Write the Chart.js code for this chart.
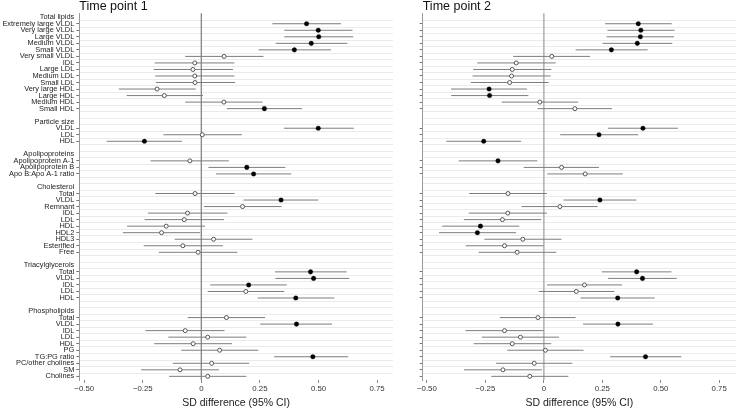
<!DOCTYPE html>
<html><head><meta charset="utf-8">
<script src="https://cdn.jsdelivr.net/npm/chart.js@4.4.0/dist/chart.umd.min.js"></script>
<style>
html,body{margin:0;padding:0;background:#fff;width:741px;height:411px;overflow:hidden}
canvas{position:absolute;top:0}
#c1{left:0}#c2{left:398px}
</style>
</head><body>
<canvas id="c1" width="398" height="411"></canvas>
<canvas id="c2" width="343" height="411"></canvas>
<script>
// ---------- categories ----------
const groups = ["Total lipids","Particle size","Apolipoproteins","Cholesterol","Triacylglycerols","Phospholipids"];
const totalLipidItems = ["Extremely large VLDL","Very large VLDL","Large VLDL","Medium VLDL","Small VLDL","Very small VLDL","IDL","Large LDL","Medium LDL","Small LDL","Very large HDL","Large HDL","Medium HDL","Small HDL"];
const particleSizeItems = ["VLDL","LDL","HDL"];
const apoItems = ["Apolipoprotein A-1","Apolipoprotein B","Apo B:Apo A-1 ratio"];
const cholesterolItems = ["Total","VLDL","Remnant","IDL","LDL","HDL","HDL2","HDL3","Esterified","Free"];
const tgItems = ["Total","VLDL","IDL","LDL","HDL"];
const phosphoItems = ["Total","VLDL","IDL","LDL","HDL","PG","TG:PG ratio","PC/other cholines","SM","Cholines"];
const groupItems = [totalLipidItems, particleSizeItems, apoItems, cholesterolItems, tgItems, phosphoItems];

// ---------- Time point 1 ----------
const tp1Est  = [0.449,0.499,0.501,0.469,0.397,0.097,-0.028,-0.036,-0.028,-0.027,-0.189,-0.158,0.096,0.269,
                 0.499,0.004,-0.243,
                 -0.049,0.194,0.223,
                 -0.027,0.340,0.176,-0.059,-0.073,-0.150,-0.170,0.052,-0.079,-0.014,
                 0.466,0.479,0.202,0.190,0.403,
                 0.107,0.406,-0.069,0.027,-0.035,0.078,0.476,0.044,-0.091,0.027];
const tp1Low  = [0.303,0.354,0.354,0.317,0.244,-0.069,-0.200,-0.204,-0.197,-0.194,-0.352,-0.319,-0.069,0.109,
                 0.352,-0.162,-0.404,
                 -0.217,0.030,0.062,
                 -0.196,0.180,0.011,-0.228,-0.242,-0.317,-0.335,-0.114,-0.246,-0.182,
                 0.314,0.316,0.038,0.027,0.240,
                 -0.058,0.251,-0.239,-0.141,-0.201,-0.086,0.311,-0.122,-0.257,-0.138];
const tp1High = [0.596,0.645,0.648,0.623,0.553,0.265,0.141,0.135,0.141,0.144,-0.024,0.007,0.261,0.430,
                 0.651,0.173,-0.083,
                 0.117,0.359,0.384,
                 0.142,0.499,0.342,0.111,0.097,0.016,-0.005,0.218,0.092,0.154,
                 0.620,0.631,0.365,0.354,0.568,
                 0.272,0.558,0.099,0.192,0.131,0.243,0.627,0.204,0.075,0.192];
const tp1Sig  = [1,1,1,1,1,0,0,0,0,0,0,0,0,1,
                 1,0,1,
                 0,1,1,
                 0,1,0,0,0,0,0,0,0,0,
                 1,1,1,0,1,
                 0,1,0,0,0,0,1,0,0,0];

// ---------- Time point 2 ----------
const tp2Est  = [0.404,0.415,0.413,0.400,0.289,0.034,-0.118,-0.135,-0.138,-0.146,-0.234,-0.232,-0.017,0.133,
                 0.424,0.236,-0.257,
                 -0.196,0.076,0.177,
                 -0.153,0.240,0.069,-0.154,-0.177,-0.271,-0.284,-0.090,-0.168,-0.114,
                 0.397,0.422,0.174,0.139,0.316,
                 -0.025,0.317,-0.168,-0.100,-0.135,0.007,0.435,-0.041,-0.175,-0.060];
const tp2Low  = [0.262,0.272,0.268,0.251,0.136,-0.131,-0.285,-0.302,-0.305,-0.312,-0.397,-0.396,-0.180,-0.027,
                 0.275,0.070,-0.417,
                 -0.364,-0.086,0.015,
                 -0.319,0.084,-0.095,-0.321,-0.342,-0.435,-0.448,-0.254,-0.334,-0.279,
                 0.248,0.275,0.014,-0.022,0.157,
                 -0.188,0.168,-0.335,-0.265,-0.300,-0.156,0.284,-0.204,-0.341,-0.225];
const tp2High = [0.547,0.559,0.557,0.550,0.444,0.198,0.051,0.032,0.029,0.021,-0.072,-0.066,0.147,0.292,
                 0.574,0.404,-0.097,
                 -0.028,0.236,0.338,
                 0.013,0.396,0.230,0.013,-0.010,-0.105,-0.119,0.076,-0.001,0.053,
                 0.546,0.568,0.335,0.302,0.474,
                 0.136,0.467,-0.001,0.065,0.032,0.170,0.588,0.122,-0.008,0.105];
const tp2Sig  = [1,1,1,1,1,0,0,0,0,0,1,1,0,0,
                 1,1,1,
                 1,0,0,
                 0,1,0,0,0,1,1,0,0,0,
                 1,1,0,0,1,
                 0,1,0,0,0,0,1,0,0,0];

// ---------- axis ----------
const xTickValues = [-0.5,-0.25,0,0.25,0.5,0.75];
const xTickLabels = ["\u22120.50","\u22120.25","0","0.25","0.50","0.75"];
const panelTitles = ["Time point 1","Time point 2"];
const xTitle = "SD difference (95% CI)";

// ---------- build row layout ----------
const rows = [];      // {text, header}
const itemRow = [];   // row index for each measure
groupItems.forEach((items, gi) => {
  if (gi > 0) rows.push(null);
  rows.push({text: groups[gi], header: true});
  items.forEach(m => { itemRow.push(rows.length); rows.push({text: m, header: false}); });
});
const labelRows = [];
rows.forEach((r, i) => { if (r) labelRows.push(i); });
const gridRows = [];
for (let i = 0; i < rows.length - 1; i++) gridRows.push(i + 0.5);
const yMin = -0.6, yMax = rows.length - 1 + 0.56;

const FONT = "'Liberation Sans', Arial, Helvetica, sans-serif";

function makeChart(canvasId, est, low, high, sig, title, showLabels, yWidth, padRight, xMin, xMax, zeroColor) {
  const datasets = [];
  datasets.push({data: [{x: 0, y: yMin}, {x: 0, y: yMax}], showLine: true, borderColor: zeroColor,
                 borderWidth: 1, pointRadius: 0, order: 5, xAxisID: 'x', yAxisID: 'y'});
  est.forEach((e, k) => {
    datasets.push({data: [{x: low[k], y: itemRow[k]}, {x: high[k], y: itemRow[k]}], showLine: true,
                   borderColor: '#7d7d7d', borderWidth: 1, pointRadius: 0, order: 4, xAxisID: 'x', yAxisID: 'y'});
  });
  const filled = [], hollow = [];
  est.forEach((e, k) => { (sig[k] ? filled : hollow).push({x: e, y: itemRow[k]}); });
  datasets.push({data: hollow, pointRadius: 2.0, pointBackgroundColor: '#fff', pointBorderColor: '#555',
                 pointBorderWidth: 1, showLine: false, order: 1, xAxisID: 'x', yAxisID: 'y'});
  datasets.push({data: filled, pointRadius: 2.3, pointBackgroundColor: '#000', pointBorderColor: '#000',
                 pointBorderWidth: 0.3, showLine: false, order: 0, xAxisID: 'x', yAxisID: 'y'});

  return new Chart(document.getElementById(canvasId), {
    type: 'scatter',
    data: {datasets},
    options: {
      responsive: false, animation: false, events: [],
      layout: {padding: {left: 0, right: padRight, top: 0, bottom: 0}},
      plugins: {
        legend: {display: false}, tooltip: {enabled: false},
        title: {display: true, text: title, align: 'start', fullSize: false, color: '#111',
                font: {family: FONT, size: 12.5, weight: 'normal', lineHeight: 1.0}, padding: {top: 0.5, bottom: 0.3}}
      },
      scales: {
        x: {
          type: 'linear', position: 'bottom', min: xMin, max: xMax,
          afterBuildTicks: s => { s.ticks = xTickValues.map(v => ({value: v})); },
          afterFit: s => { s.height = 31; },
          ticks: {autoSkip: false, maxRotation: 0, padding: 1, color: '#333',
                  font: {family: FONT, size: 7.8},
                  callback: (v) => { const i = xTickValues.indexOf(v); return i >= 0 ? xTickLabels[i] : ''; }},
          grid: {display: true, drawOnChartArea: false, drawTicks: true, tickLength: 3, tickColor: '#888'},
          border: {display: false},
          title: {display: true, text: xTitle, color: '#222', font: {family: FONT, size: 10.5},
                  padding: {top: 0, bottom: 1.7}}
        },
        y: {
          type: 'linear', position: 'left', reverse: true, min: yMin, max: yMax,
          afterBuildTicks: s => { s.ticks = labelRows.map(v => ({value: v})); },
          afterFit: s => { s.width = yWidth; },
          ticks: {autoSkip: false, padding: 2, color: '#222', font: {family: FONT, size: 7.4},
                  callback: (v) => showLabels && rows[v] ? rows[v].text : ''},
          grid: {display: true, drawOnChartArea: false, drawTicks: true, tickLength: 3,
                 tickColor: ctx => (ctx.tick && rows[ctx.tick.value] && !rows[ctx.tick.value].header) ? '#777' : 'rgba(0,0,0,0)'},
          border: {display: true, color: '#999', width: 1}
        },
        yg: {
          type: 'linear', position: 'right', reverse: true, min: yMin, max: yMax,
          afterBuildTicks: s => { s.ticks = gridRows.map(v => ({value: v})); },
          afterFit: s => { s.width = 0; },
          ticks: {display: false, autoSkip: false},
          grid: {display: true, drawOnChartArea: true, drawTicks: false, color: '#ebebeb', lineWidth: 1},
          border: {display: false}
        }
      }
    }
  });
}

makeChart('c1', tp1Est, tp1Low, tp1High, tp1Sig, panelTitles[0], true, 79.3, 2, -0.521, 0.818, '#8a8a8a');
makeChart('c2', tp2Est, tp2Low, tp2High, tp2Sig, panelTitles[1], false, 24.7, 0, -0.518, 0.822, '#b5b5b5');
</script>
</body></html>
